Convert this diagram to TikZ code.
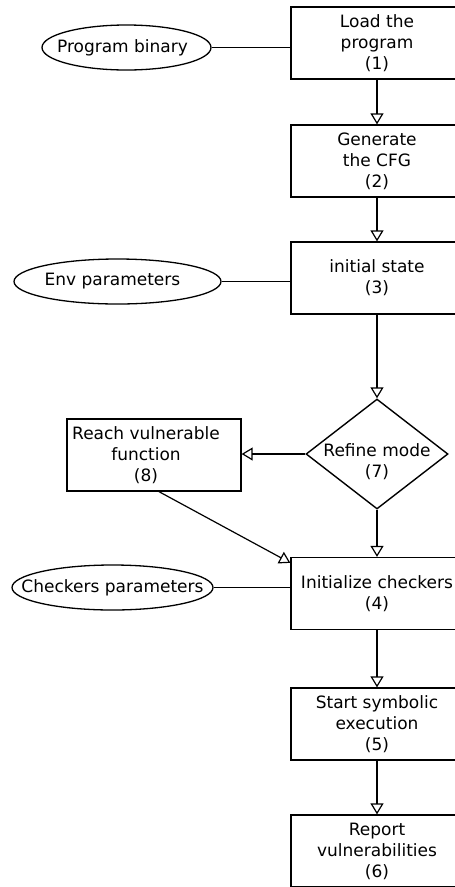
\documentclass[tikz,border=0pt]{standalone}
\usepackage{fontspec}
\setmainfont{DejaVu Sans}
\usetikzlibrary{shapes.geometric,arrows.meta,calc}
\begin{document}
\begin{tikzpicture}[x=1pt,y=-1pt,
	every node/.style={font=\fontsize{17}{21}\selectfont,align=center,inner sep=0pt},
	stage/.style={draw,line width=1.3pt,minimum width=172pt,minimum height=72pt},
	source/.style={draw,ellipse,line width=1.3pt,minimum height=45pt},
	decision/.style={draw,diamond,line width=1.4pt,minimum width=142pt,minimum height=110pt},
	flow/.style={line width=1.2pt,-{Triangle[open,length=11pt,width=13pt]}},
	feed/.style={line width=1.2pt}]
	\useasboundingbox (0,0) rectangle (455,887);
	\def\colx{377}
	% main column
		\foreach \n/\y/\t in {1/43/{Load the\\program\\(1)},2/161/{Generate\\the CFG\\(2)},3/278/{initial state\\(3)},4/593.5/{Initialize checkers\\(4)},5/724/{Start symbolic\\execution\\(5)},6/851/{Report\\vulnerabilities\\(6)}}
			\node[stage] (b\n) at (\colx,\y) {\t};
		\node[decision,label={[yshift=-8pt]center:Refine mode\\(7)}] (d7) at (\colx,454) {};
		\node[stage,minimum width=174pt,label={[xshift=-8pt]center:Reach vulnerable\\function\\(8)}] (b8) at (154,455) {};
	% inputs
		\node[source,minimum width=169pt,label={[xshift=-4pt]center:Program binary}] (e1) at (126.5,47.5) {};
		\node[source,minimum width=207pt,label={[xshift=-5pt]center:Env parameters}] (e3) at (117.5,281.5) {};
		\node[source,minimum width=201pt,label={center:Checkers parameters}] (e4) at (112.5,587.5) {};
		\foreach \e/\b in {e1/b1,e3/b3,e4/b4}
			\draw [feed] (\e.east) -- (\e.east -| \b.west);
	% arrows
		\foreach \a/\b in {b1/b2,b2/b3,b3/d7,d7/b4,b4/b5,b5/b6}
			\draw [flow] (\a.south) -- (\b.north);
		\draw [flow] (d7.west) -- (d7.west -| b8.east);
		\draw [flow] ($(b8.south)+(5,0)$) -- ($(b4.north west)+(0,6)$);
\end{tikzpicture}
\end{document}
